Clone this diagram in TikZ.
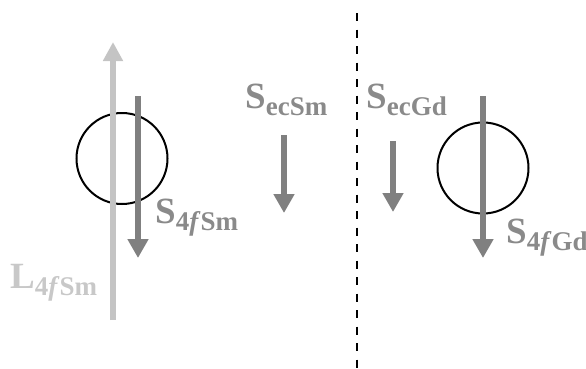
\documentclass[tikz,border=0pt]{standalone}
\usepackage{fontspec}
\setmainfont{Liberation Serif}
\usetikzlibrary{arrows.meta}
\definecolor{sgray}{HTML}{808080}
\definecolor{lgray}{HTML}{C4C4C4}
\definecolor{tgray}{HTML}{8A8A8A}
\definecolor{tlgray}{HTML}{C8C8C8}
\newcommand{\biglab}[2]{{\fontsize{37}{37}\selectfont\bfseries #1\raisebox{-7pt}{\fontsize{27}{27}\selectfont #2}}}
\tikzset{
  atom/.style={draw=black, line width=2pt, circle, minimum size=91pt, inner sep=0pt},
  sarrow/.style={draw=sgray, line width=5.5pt, -{Triangle[length=19pt,width=20pt]}},
  larrow/.style={draw=lgray, line width=5.5pt, -{Triangle[length=19pt,width=19pt]}},
  slab/.style={text=tgray, inner sep=0pt, anchor=base west},
  llab/.style={text=tlgray, inner sep=0pt, anchor=base west}
}
\begin{document}
\begin{tikzpicture}[x=1pt,y=-1pt]
\useasboundingbox (0,0) rectangle (586,368);
% circles
\node[atom] (smatom) at (122,158.5) {};
\node[atom] (gdatom) at (483,168) {};
% arrow end points
\coordinate (lbot) at (113,320);
\coordinate (ltop) at (113,42);
\coordinate (s4smtop) at (138,96);
\coordinate (s4smtip) at (138,258);
\coordinate (secsmtop) at (284,135);
\coordinate (secsmtip) at (284,213);
\coordinate (secgdtop) at (393,141);
\coordinate (secgdtip) at (393,212);
\coordinate (s4gdtop) at (483,96);
\coordinate (s4gdtip) at (483,258);
\coordinate (dtop) at (356.5,13);
\coordinate (dbot) at (356.5,368);
% arrows
\draw[larrow] (lbot) -- (ltop);
\draw[sarrow] (s4smtop) -- (s4smtip);
\draw[sarrow] (secsmtop) -- (secsmtip);
\draw[sarrow] (secgdtop) -- (secgdtip);
\draw[sarrow] (s4gdtop) -- (s4gdtip);
% dashed divider
\draw[black, line width=2pt, dash pattern=on 8pt off 8.5pt] (dtop) -- (dbot);
% labels
\node[slab] (lsecsm) at (245,108) {\biglab{S}{ecSm}};
\node[slab] (lsecgd) at (366,108) {\biglab{S}{ecGd}};
\node[slab] (ls4sm) at (155,223) {\biglab{S}{4\textit{f}Sm}};
\node[slab] (ls4gd) at (506,243) {\biglab{S}{4\textit{f}Gd}};
\node[llab] (ll4sm) at (10,288) {\biglab{L}{4\textit{f}Sm}};
\end{tikzpicture}
\end{document}
